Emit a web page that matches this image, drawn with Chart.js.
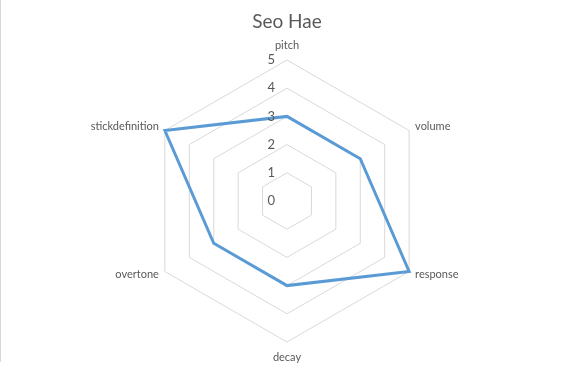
<!DOCTYPE html>
<html>
<head>
<meta charset="utf-8">
<script src="https://cdn.jsdelivr.net/npm/chart.js@4/dist/chart.umd.min.js"></script>
<style>
  html, body { margin: 0; padding: 0; background: #fff; }
  #wrap { position: relative; width: 572px; height: 371px; }
  #edge { position: absolute; left: 0; top: 0; width: 1px; height: 362px; background: #d9d9d9; }
</style>
</head>
<body>
<div id="wrap">
  <canvas id="radar-chart" width="572" height="371"></canvas>
  <div id="edge"></div>
</div>
<script>
/** Radar chart "Seo Hae" */
var chartTitle = 'Seo Hae';
var categories = ['pitch', 'volume', 'response', 'decay', 'overtone', 'stickdefinition'];
var seriesValues = [3, 3, 5, 3, 3, 5];
var tickValues = [0, 1, 2, 3, 4, 5];

var textColor = '#595959';
var labelFont = '11px Lato, "Liberation Sans", sans-serif';

// tick numbers sit left of the top spoke, category names sit just outside the outer ring
var radarLabels = {
  id: 'radarLabels',
  afterDraw: function (chart) {
    var scale = chart.scales.r;
    var ctx = chart.ctx;
    ctx.save();
    ctx.fillStyle = textColor;
    ctx.font = '13px Lato, "Liberation Sans", sans-serif';
    ctx.textAlign = 'right';
    ctx.textBaseline = 'middle';
    tickValues.forEach(function (v) {
      var p = scale.getPointPosition(0, scale.getDistanceFromCenterForValue(v));
      ctx.fillText(String(v), p.x - 12, p.y);
    });
    ctx.font = labelFont;
    categories.forEach(function (name, i) {
      var p = scale.getPointPosition(i, scale.drawingArea);
      var dx = p.x - scale.xCenter;
      var dy = p.y - scale.yCenter;
      if (Math.abs(dx) < 1) {
        ctx.textAlign = 'center';
        ctx.fillText(name, p.x, dy < 0 ? p.y - 15 : p.y + 15);
      } else {
        ctx.textAlign = dx > 0 ? 'left' : 'right';
        ctx.fillText(name, dx > 0 ? p.x + 6 : p.x - 6, dy < 0 ? p.y - 4 : p.y + 3);
      }
    });
    ctx.restore();
  }
};

new Chart(document.getElementById('radar-chart'), {
  type: 'radar',
  data: {
    labels: categories,
    datasets: [{
      label: chartTitle,
      data: seriesValues,
      borderColor: '#5b9bd5',
      borderWidth: 3,
      backgroundColor: 'rgba(0,0,0,0)',
      fill: false,
      pointRadius: 0,
      pointHoverRadius: 0,
      tension: 0
    }]
  },
  options: {
    responsive: false,
    animation: false,
    events: [],
    layout: { padding: { top: 0, bottom: 28, left: 2, right: 0 } },
    plugins: {
      legend: { display: false },
      tooltip: { enabled: false },
      title: {
        display: true,
        text: chartTitle,
        color: textColor,
        font: { family: 'Lato, "Liberation Sans", sans-serif', size: 19, weight: 'normal' },
        padding: { top: 10, bottom: 28 }
      }
    },
    scales: {
      r: {
        min: 0,
        max: 5,
        beginAtZero: true,
        ticks: { stepSize: 1, display: false },
        pointLabels: { display: false },
        angleLines: { display: false },
        grid: { color: '#d9d9d9', lineWidth: 1 }
      }
    }
  },
  plugins: [radarLabels]
});
</script>
</body>
</html>
